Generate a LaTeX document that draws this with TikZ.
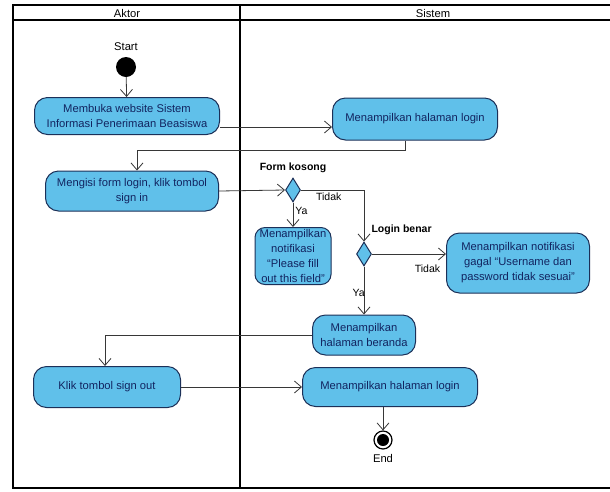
\documentclass[tikz,border=0pt]{standalone}
\usepackage{fontspec}
\setmainfont{Liberation Sans}
\usetikzlibrary{positioning,arrows.meta,calc,shapes.geometric}
\definecolor{actfill}{RGB}{96,192,234}
\definecolor{actline}{RGB}{28,48,88}
\definecolor{acttext}{RGB}{18,36,96}
\definecolor{flowline}{RGB}{55,55,55}

\begin{document}
\begin{tikzpicture}[x=1pt,y=-1pt,
   font=\fontsize{11.2}{15}\selectfont,
   action/.style={draw=actline,fill=actfill,text=acttext,rounded corners=13pt,
                  line width=1pt,align=center,inner sep=1pt},
   decision/.style={diamond,draw=actline,fill=actfill,line width=1pt,
                  minimum width=15pt,minimum height=24pt,inner sep=0pt},
   flow/.style={draw=flowline,line width=0.8pt,-{Straight Barb[length=7pt,width=12pt]}},
   guard/.style={inner sep=2pt,font=\fontsize{10.5}{12}\selectfont},
   lane/.style={line width=2pt}] 
   \useasboundingbox (0,0) rectangle (610,491);
   \clip (0,0) rectangle (610,491);
   % swimlanes
   \draw[lane] (13,5) rectangle (625,488);
   \draw[lane] (13,20) -- (625,20);
   \draw[lane] (240,5) -- (240,488);
   \node (aktor)  at (127,13) {Aktor};
   \node (sistem) at (433,13) {Sistem};

   \node[circle,fill=black,minimum size=20pt,inner sep=0pt] (start) at (126,67) {};
   \node (startlbl) [above=3pt of start] {Start};
   \node[action,minimum width=185pt,minimum height=37pt] (a1) at (127,116)
        {Membuka website Sistem\\Informasi Penerimaan Beasiswa};
   \node[action,minimum width=165pt,minimum height=42pt] (a2) at (415,119)
        {Menampilkan halaman login};
   \node[action,minimum width=173pt,minimum height=40pt] (a3) at (132,191)
        {Mengisi form login, klik tombol\\sign in};
   \node[decision] (d1) at (293,190) {};
   \node[font=\fontsize{10.5}{12}\bfseries] (d1lbl) [above=1pt of d1] {Form kosong};
   \node[action,minimum width=76pt,minimum height=57pt,rounded corners=10pt] (a4) at (293,256)
        {Menampilkan\\notifikasi\\“Please fill\\out this field”};
   \node[decision] (d2) at (364,254) {};
   \node[font=\fontsize{10.5}{12}\bfseries,anchor=south west] (d2lbl) at ([xshift=4pt,yshift=3pt]d2.north) {Login benar};
   \node[action,minimum width=143pt,minimum height=60pt] (a5) at (518,263)
        {Menampilkan notifikasi\\gagal “Username dan\\password tidak sesuai”};
   \node[action,minimum width=103pt,minimum height=40pt] (a6) at (364,335)
        {Menampilkan\\halaman beranda};
   \node[action,minimum width=147pt,minimum height=41pt] (a7) at (107,387)
        {Klik tombol sign out};
   \node[action,minimum width=175pt,minimum height=39pt] (a8) at (390,387)
        {Menampilkan halaman login};
   \node[circle,draw=black,line width=1.2pt,minimum size=18pt,inner sep=0pt] (end) at (383,440) {};
   \fill (end) circle (6pt);
   \node (endlbl) [below=1pt of end] {End};

   \draw[flow] (start) -- (a1);
   \draw[flow] ([yshift=-11pt]a1.east) -- ([yshift=-11pt]a1.east -| a2.west);
   \draw[flow] ([xshift=-10pt]a2.south) -- ++(0,10) -| ([xshift=5pt]a3.north);
   \draw[flow] (a3.east) -- (d1.west);
   \draw[flow] (d1.south) -- node[guard,right,pos=0.35] {Ya} (a4.north);
   \draw[flow] (d1.east) -| node[guard,below,pos=0.22] {Tidak} (d2.north);
   \draw[flow] (d2.east) -- node[guard,below=8pt,pos=0.75] {Tidak} (d2.east -| a5.west);
   \draw[flow] (d2.south) -- node[guard,left,pos=0.55,xshift=3pt] {Ya} (a6.north);
   \draw[flow] (a6.west) -| ([xshift=-2pt]a7.north);
   \draw[flow] (a7.east) -- (a8.west);
   \draw[flow] (a8.south -| end) -- (end);
\end{tikzpicture}
\end{document}
